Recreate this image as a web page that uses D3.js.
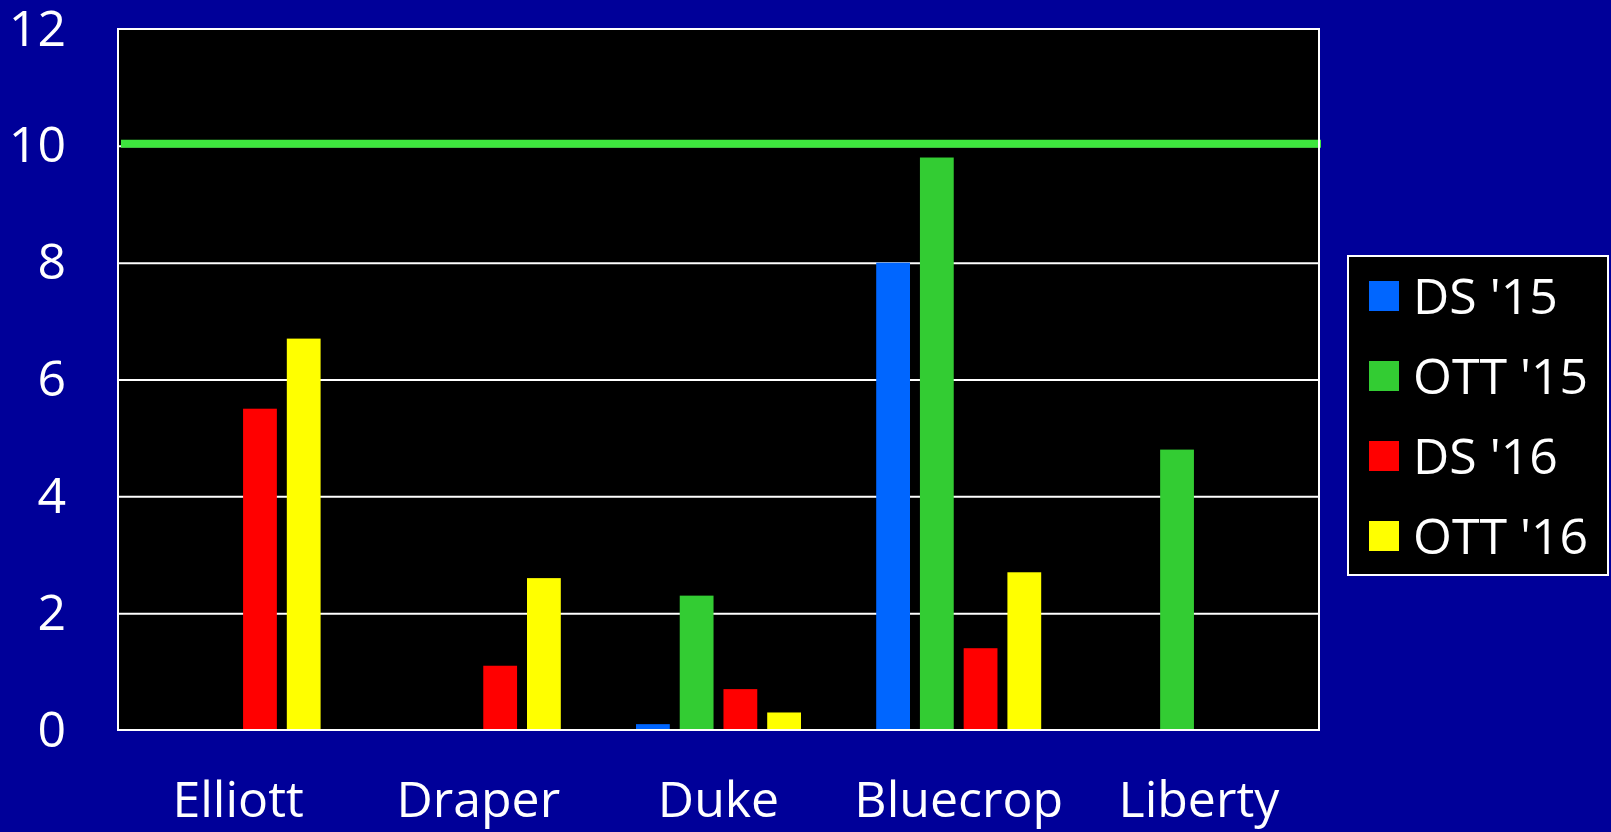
<!DOCTYPE html>
<html>
<head>
<meta charset="utf-8">
<script src="https://cdn.jsdelivr.net/npm/d3@7"></script>
<style>
  html, body { margin: 0; padding: 0; background: #000099; }
  svg { display: block; }
  text { font-family: "Open Sans", "Noto Sans", sans-serif; fill: #ffffff; }
</style>
</head>
<body>
<svg id="chart" width="1611" height="832"></svg>
<script>
// ---- data ----
const categories = ["Elliott", "Draper", "Duke", "Bluecrop", "Liberty"];
const seriesNames = ["DS '15", "OTT '15", "DS '16", "OTT '16"];
const ds15  = [0, 0, 0.1, 8.0, 0];
const ott15 = [0, 0, 2.3, 9.8, 4.8];
const ds16  = [5.5, 1.1, 0.7, 1.4, 0];
const ott16 = [6.7, 2.6, 0.3, 2.7, 0];
const yTicks = [0, 2, 4, 6, 8, 10, 12];
const thresholdValue = 10;

const seriesValues = [ds15, ott15, ds16, ott16];
const seriesColors = ["#0066FF", "#33CC33", "#FF0000", "#FFFF00"];

// ---- layout ----
const W = 1611, H = 832;
const plot = { left: 118, right: 1319, top: 29, bottom: 730 };
const fontSize = 50;

const svg = d3.select("#chart");
svg.append("rect").attr("width", W).attr("height", H).attr("fill", "#000099");

const x0 = d3.scaleBand().domain(categories).range([plot.left, plot.right]).padding(0);
const groupW = 165;
const x1 = d3.scaleBand().domain(seriesNames)
  .range([(x0.bandwidth() - groupW) / 2, (x0.bandwidth() + groupW) / 2])
  .paddingInner(10 / 44).paddingOuter(0);
const y = d3.scaleLinear().domain([0, 12]).range([plot.bottom, plot.top]);

// plot background
svg.append("rect")
  .attr("x", plot.left).attr("y", plot.top)
  .attr("width", plot.right - plot.left).attr("height", plot.bottom - plot.top)
  .attr("fill", "#000000");

// gridlines
const grid = svg.append("g").attr("transform", `translate(${plot.left},0)`)
  .call(d3.axisLeft(y).tickValues(yTicks.filter(v => v > 0 && v < 12))
    .tickSize(-(plot.right - plot.left)).tickFormat(""));
grid.select(".domain").remove();
grid.selectAll("line").attr("stroke", "#ffffff").attr("stroke-width", 2);

// bars
const groups = svg.append("g").selectAll("g")
  .data(categories).join("g")
  .attr("transform", d => `translate(${x0(d)},0)`);
groups.selectAll("rect")
  .data((d, i) => seriesNames.map((s, k) => ({ s, k, v: seriesValues[k][i] })))
  .join("rect")
  .attr("x", d => x1(d.s))
  .attr("width", x1.bandwidth())
  .attr("y", d => y(d.v))
  .attr("height", d => y(0) - y(d.v))
  .attr("fill", d => seriesColors[d.k]);

// threshold line
svg.append("line")
  .attr("x1", plot.left + 3).attr("x2", plot.right + 2)
  .attr("y1", y(thresholdValue) - 2).attr("y2", y(thresholdValue) - 2)
  .attr("stroke", "#3EE63E").attr("stroke-width", 8);

// plot border
svg.append("rect")
  .attr("x", plot.left).attr("y", plot.top)
  .attr("width", plot.right - plot.left).attr("height", plot.bottom - plot.top)
  .attr("fill", "none").attr("stroke", "#ffffff").attr("stroke-width", 2);

// y axis labels
const yAxis = svg.append("g").attr("transform", `translate(${plot.left},0)`)
  .call(d3.axisLeft(y).tickValues(yTicks).tickSize(0).tickPadding(52));
yAxis.select(".domain").remove();
yAxis.selectAll("text").attr("font-size", fontSize).attr("fill", "#ffffff")
  .attr("font-family", "'Open Sans', 'Noto Sans', sans-serif");

// x axis labels
const xAxis = svg.append("g").attr("transform", `translate(0,${plot.bottom})`)
  .call(d3.axisBottom(x0).tickSize(0).tickPadding(51));
xAxis.select(".domain").remove();
xAxis.selectAll("text").attr("font-size", fontSize).attr("fill", "#ffffff")
  .attr("font-family", "'Open Sans', 'Noto Sans', sans-serif");

// legend
const legend = svg.append("g");
legend.append("rect")
  .attr("x", 1348).attr("y", 256).attr("width", 260).attr("height", 319)
  .attr("fill", "#000000").attr("stroke", "#ffffff").attr("stroke-width", 2);
const li = legend.selectAll("g.item").data(seriesNames).join("g")
  .attr("class", "item")
  .attr("transform", (d, i) => `translate(1369,${281 + i * 80})`);
li.append("rect").attr("width", 30).attr("height", 30)
  .attr("fill", (d, i) => seriesColors[i]);
li.append("text").attr("x", 44).attr("y", 15).attr("dy", "0.36em")
  .attr("font-size", fontSize).text(d => d);
</script>
</body>
</html>
